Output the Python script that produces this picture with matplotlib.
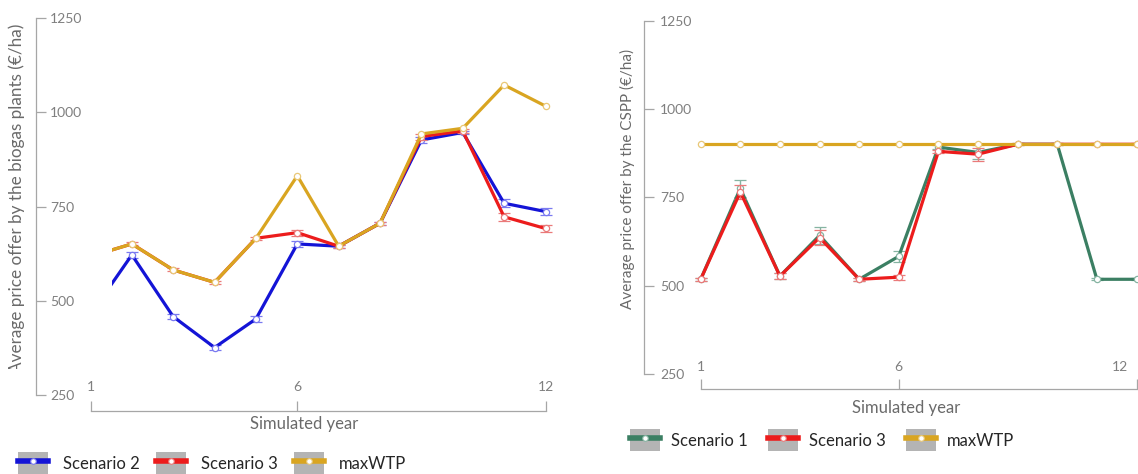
import matplotlib.pyplot as plt
import numpy as np
from matplotlib.legend_handler import HandlerTuple
from matplotlib.lines import Line2D
from matplotlib.patches import Rectangle
from matplotlib.transforms import Bbox, ScaledTranslation, TransformedBbox

plt.rcParams['font.family'] = ['Lato', 'DejaVu Sans']

# Simulated years and shared ticks
years = np.arange(1, 13)
y_ticks = [250, 500, 750, 1000, 1250]
x_ticks = [1, 6, 12]

# Average price offer by the biogas plants (EUR/ha)
biogas_scenario2 = [464, 622, 458, 376, 452, 651, 645, 706, 927, 947, 759, 737]
biogas_scenario2_err = [6, 7, 7, 6, 7, 8, 4, 4, 7, 5, 10, 10]
biogas_scenario3 = [618, 651, 582, 549, 666, 681, 645, 706, 936, 951, 723, 692]
biogas_scenario3_err = [4, 4, 4, 4, 4, 8, 4, 4, 8, 5, 10, 8]
biogas_max_wtp = [618, 651, 582, 549, 666, 832, 645, 706, 943, 958, 1073, 1017]

# Average price offer by the CSPP (EUR/ha)
cspp_scenario1 = [518, 775, 527, 642, 518, 583, 892, 877, 900, 900, 518, 518]
cspp_scenario1_err = [4, 25, 8, 25, 4, 15, 5, 20, 3, 3, 3, 3]
cspp_scenario3 = [518, 765, 527, 636, 518, 524, 880, 872, 900, 900, 900, 900]
cspp_scenario3_err = [5, 20, 8, 22, 5, 7, 5, 18, 3, 3, 3, 3]
cspp_max_wtp = [900] * 12

# Colours
blue, blue_light = '#1414d6', '#7a7af0'
red, red_light = '#ec1c1c', '#ea7a7a'
gold, gold_light = '#d9a521', '#e9c878'
green, green_light = '#3b7f63', '#86b4a2'
axis_grey = '#a6a6a6'
text_grey = '#7f7f7f'
title_grey = '#6a6a6a'

W, H = 1138, 474
PT = 72 / 100  # points per pixel at dpi 100

fig = plt.figure(figsize=(W / 100, H / 100), dpi=100)


def px_rect(left, top, right, bottom):
  return [left / W, 1 - bottom / H, (right - left) / W, (bottom - top) / H]


def style_axes(ax, spine_left_px, spine_bottom_px, label_pad_px, xlabel_pad_px):
  ax.set_xlim(1, 12)
  ax.set_ylim(250, 1250)
  for side in ['top', 'right']:
    ax.spines[side].set_visible(False)
  ax.spines['left'].set_position(('outward', spine_left_px * PT))
  ax.spines['bottom'].set_position(('outward', spine_bottom_px * PT))
  ax.spines['left'].set_bounds(250, 1250)
  ax.spines['bottom'].set_bounds(1, 12)
  for side in ['left', 'bottom']:
    ax.spines[side].set_color(axis_grey)
    ax.spines[side].set_linewidth(0.9)

  ax.tick_params(axis='y', direction='in', length=10 * PT, width=0.9,
                 color=axis_grey, labelcolor=text_grey, labelsize=10,
                 pad=-label_pad_px * PT)
  ax.tick_params(axis='x', direction='in', length=10 * PT, width=0.9,
                 color=axis_grey, labelcolor=text_grey, labelsize=10,
                 pad=-xlabel_pad_px * PT)
  ax.set_yticks(y_ticks)
  ax.set_xticks(x_ticks)
  for lab in ax.get_yticklabels():
    lab.set_horizontalalignment('left')
  for lab in ax.get_xticklabels():
    lab.set_verticalalignment('center')


def draw_series(ax, values, errors, color, light, z, clip=None):
  if errors is None:
    artists = ax.plot(years, values, color=color, lw=2.3, marker='o', ms=4.5,
                      mfc='white', mec=light, mew=0.9, zorder=z)
  else:
    cont = ax.errorbar(years, values, yerr=errors, color=color, lw=2.3,
                       ecolor=light, elinewidth=1.0, capsize=4, capthick=1.0,
                       marker='o', ms=4.5, mfc='white', mec=light, mew=0.9,
                       zorder=z)
    artists = [cont.lines[0], *cont.lines[1], *cont.lines[2]]
  for art in artists:
    if clip is not None:
      art.set_clip_path(clip)
    else:
      art.set_clip_on(False)


# Left panel: biogas plants
ax1 = fig.add_axes(px_rect(90.5, 18.3, 545.5, 395))
style_axes(ax1, 54.5, 15.7, 14, 24)
line_clip = Rectangle((1.52, 0), 20, 3000, transform=ax1.transData)
draw_series(ax1, biogas_scenario2, biogas_scenario2_err, blue, blue_light, 3, line_clip)
draw_series(ax1, biogas_scenario3, biogas_scenario3_err, red, red_light, 4, line_clip)
draw_series(ax1, biogas_max_wtp, None, gold, gold_light, 5, line_clip)

ax1.set_ylabel('Average price offer by the biogas plants (€/ha)', fontsize=12.3,
               color=title_grey, va='center')
ax1.yaxis.set_label_coords(-0.1615, 0.522)
ax1.yaxis.label.set_clip_box(
  TransformedBbox(Bbox.from_extents(0, 105 / H, 1, 1), fig.transFigure))
ax1.set_xlabel('Simulated year', fontsize=12, color=title_grey, va='center')
ax1.xaxis.set_label_coords(0.469, -0.077)

# Right panel: CSPP
ax2 = fig.add_axes(px_rect(700.7, 20.6, 1136.5, 374))
style_axes(ax2, 56.7, 15.3, 16, 22.6)
last_label = ax2.get_xticklabels()[-1]
last_label.set_transform(last_label.get_transform()
                         + ScaledTranslation(-17 / 100, 0, fig.dpi_scale_trans))
draw_series(ax2, cspp_scenario1, cspp_scenario1_err, green, green_light, 3)
draw_series(ax2, cspp_scenario3, cspp_scenario3_err, red, red_light, 4)
draw_series(ax2, cspp_max_wtp, None, gold, gold_light, 5)

ax2.set_ylabel('Average price offer by the CSPP (€/ha)', fontsize=11,
               color=title_grey, va='center')
ax2.yaxis.set_label_coords(-0.169, 0.552)
ax2.set_xlabel('Simulated year', fontsize=12, color=title_grey, va='center')
ax2.xaxis.set_label_coords(0.471, -0.0962)


# Legend keys: grey box with a short line and marker
def legend_key(color, light):
  box = Rectangle((0, 0), 1, 1, facecolor='#b4b4b4', edgecolor='none')
  line = Line2D([], [], color=color, lw=4, marker='o', ms=4, mfc='white',
                mec=light, mew=0.8)
  return (box, line)


legend_fs = 12
fs_px = legend_fs / PT
legend_opts = dict(
  handler_map={tuple: HandlerTuple(ndivide=1)}, ncol=3, loc='lower left',
  frameon=False, fontsize=legend_fs, labelcolor='#262626',
  handlelength=30 / fs_px, handleheight=27 / fs_px, borderpad=0,
  borderaxespad=0)

fig.legend([legend_key(blue, blue_light), legend_key(red, red_light),
            legend_key(gold, gold_light)],
           ['Scenario 2', 'Scenario 3', 'maxWTP'],
           bbox_to_anchor=(18 / W, 0), handletextpad=15 / fs_px,
           columnspacing=16 / fs_px, **legend_opts)
fig.legend([legend_key(green, green_light), legend_key(red, red_light),
            legend_key(gold, gold_light)],
           ['Scenario 1', 'Scenario 3', 'maxWTP'],
           bbox_to_anchor=(630 / W, 23 / H), handletextpad=11 / fs_px,
           columnspacing=20 / fs_px, **legend_opts)

fig.savefig('out.png', dpi=100)
